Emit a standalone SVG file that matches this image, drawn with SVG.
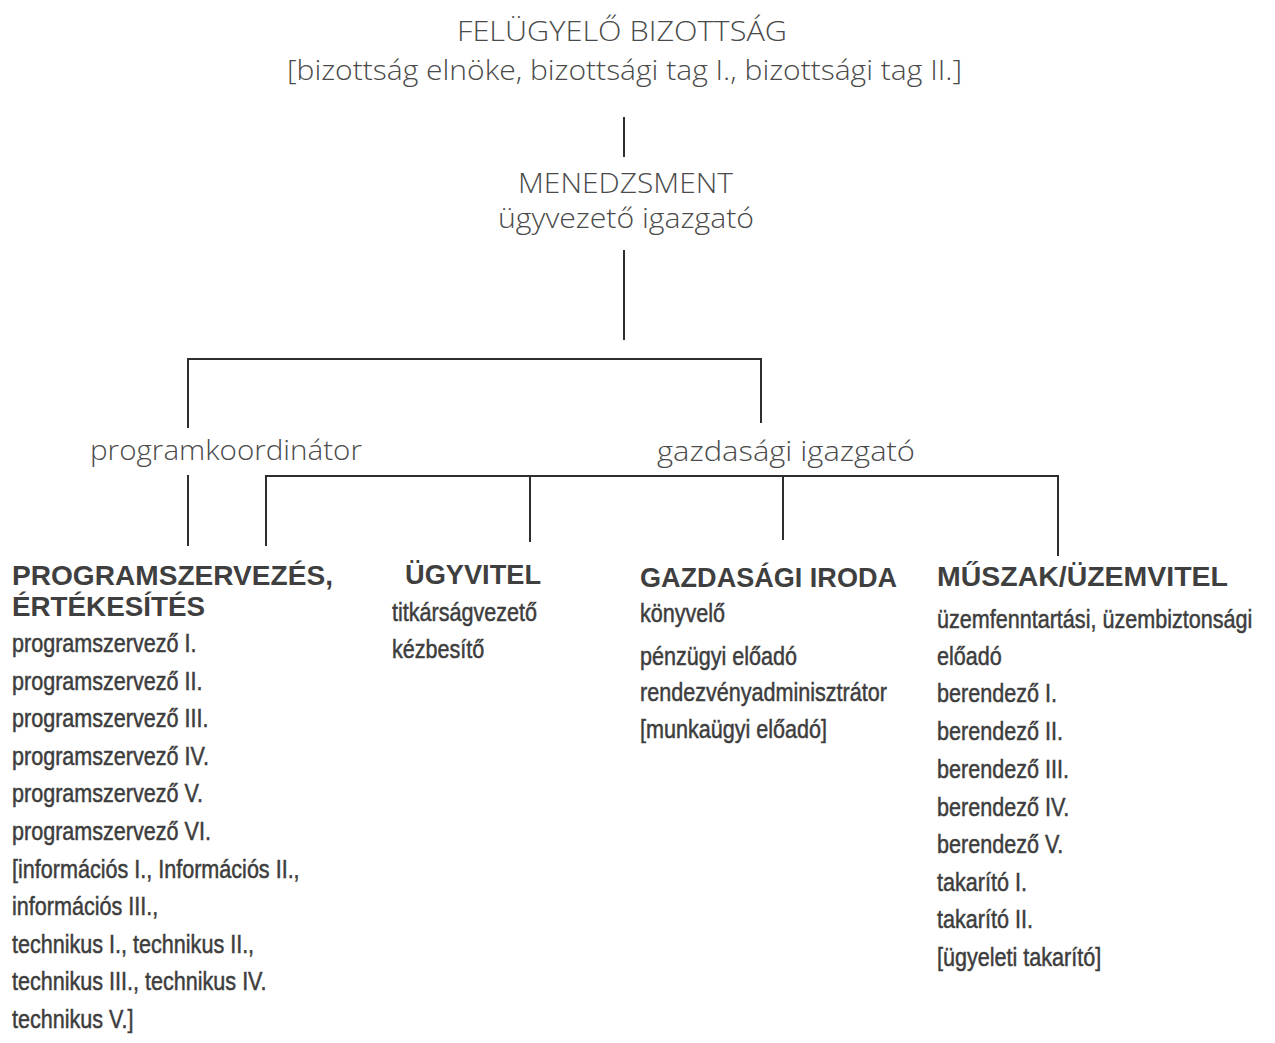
<svg xmlns="http://www.w3.org/2000/svg" width="1275" height="1043" viewBox="0 0 1275 1043">
<style>
.top{font-family:"Open Sans","Liberation Sans","DejaVu Sans",sans-serif;font-size:28px;fill:#4a4a4a;font-weight:300}
.hd{font-family:"Liberation Sans","DejaVu Sans",sans-serif;font-size:28px;fill:#3f3f3f;font-weight:bold}
.ls{font-family:"Liberation Sans","DejaVu Sans",sans-serif;font-size:26px;fill:#3d3d3d;stroke:#3d3d3d;stroke-width:0.5}
.ln{stroke:#2e2e2e;stroke-width:2;fill:none}
</style>
<rect width="1275" height="1043" fill="#ffffff"/>
<g id="connectors">
<line class="ln" x1="624" y1="117" x2="624" y2="157"/>
<line class="ln" x1="624" y1="250" x2="624" y2="340"/>
<polyline class="ln" points="188,428 188,359 761,359 761,423"/>
<line class="ln" x1="188" y1="475" x2="188" y2="546"/>
<polyline class="ln" points="266,546 266,476 1058,476 1058,556"/>
<line class="ln" x1="530" y1="477" x2="530" y2="542"/>
<line class="ln" x1="783" y1="477" x2="783" y2="540"/>
</g>
<g id="node-felugyelo">
<text class="top" x="457" y="41" textLength="330" lengthAdjust="spacingAndGlyphs">FELÜGYELŐ BIZOTTSÁG</text>
<text class="top" x="287" y="80" textLength="675" lengthAdjust="spacingAndGlyphs">[bizottság elnöke, bizottsági tag I., bizottsági tag II.]</text>
</g>
<g id="node-menedzsment">
<text class="top" x="518" y="193" textLength="215" lengthAdjust="spacingAndGlyphs">MENEDZSMENT</text>
<text class="top" x="498" y="228" textLength="256" lengthAdjust="spacingAndGlyphs">ügyvezető igazgató</text>
</g>
<g id="node-programkoordinator">
<text class="top" x="90" y="460" textLength="272" lengthAdjust="spacingAndGlyphs">programkoordinátor</text>
</g>
<g id="node-gazdasagi-igazgato">
<text class="top" x="657" y="461" textLength="258" lengthAdjust="spacingAndGlyphs">gazdasági igazgató</text>
</g>
<g id="node-programszervezes">
<text class="hd" x="12" y="585" textLength="321" lengthAdjust="spacingAndGlyphs">PROGRAMSZERVEZÉS,</text>
<text class="hd" x="12" y="616" textLength="193" lengthAdjust="spacingAndGlyphs">ÉRTÉKESÍTÉS</text>
<g transform="translate(12,0) scale(0.83,1)">
<text class="ls" x="0" y="652">programszervező I.</text>
<text class="ls" x="0" y="690">programszervező II.</text>
<text class="ls" x="0" y="727">programszervező III.</text>
<text class="ls" x="0" y="765">programszervező IV.</text>
<text class="ls" x="0" y="802">programszervező V.</text>
<text class="ls" x="0" y="840">programszervező VI.</text>
<text class="ls" x="0" y="878">[információs I., Információs II.,</text>
<text class="ls" x="0" y="915">információs III.,</text>
<text class="ls" x="0" y="953">technikus I., technikus II.,</text>
<text class="ls" x="0" y="990">technikus III., technikus IV.</text>
<text class="ls" x="0" y="1028">technikus V.]</text>
</g>
</g>
<g id="node-ugyvitel">
<text class="hd" x="405" y="584" textLength="136" lengthAdjust="spacingAndGlyphs">ÜGYVITEL</text>
<g transform="translate(392,0) scale(0.83,1)">
<text class="ls" x="0" y="621">titkárságvezető</text>
<text class="ls" x="0" y="658">kézbesítő</text>
</g>
</g>
<g id="node-gazdasagi-iroda">
<text class="hd" x="640" y="587" textLength="257" lengthAdjust="spacingAndGlyphs">GAZDASÁGI IRODA</text>
<g transform="translate(640,0) scale(0.83,1)">
<text class="ls" x="0" y="622">könyvelő</text>
<text class="ls" x="0" y="665">pénzügyi előadó</text>
<text class="ls" x="0" y="701">rendezvényadminisztrátor</text>
<text class="ls" x="0" y="738">[munkaügyi előadó]</text>
</g>
</g>
<g id="node-muszak">
<text class="hd" x="937" y="586" textLength="291" lengthAdjust="spacingAndGlyphs">MŰSZAK/ÜZEMVITEL</text>
<g transform="translate(937,0) scale(0.83,1)">
<text class="ls" x="0" y="628">üzemfenntartási, üzembiztonsági</text>
<text class="ls" x="0" y="665">előadó</text>
<text class="ls" x="0" y="702">berendező I.</text>
<text class="ls" x="0" y="740">berendező II.</text>
<text class="ls" x="0" y="778">berendező III.</text>
<text class="ls" x="0" y="816">berendező IV.</text>
<text class="ls" x="0" y="853">berendező V.</text>
<text class="ls" x="0" y="891">takarító I.</text>
<text class="ls" x="0" y="928">takarító II.</text>
<text class="ls" x="0" y="966">[ügyeleti takarító]</text>
</g>
</g>
</svg>
